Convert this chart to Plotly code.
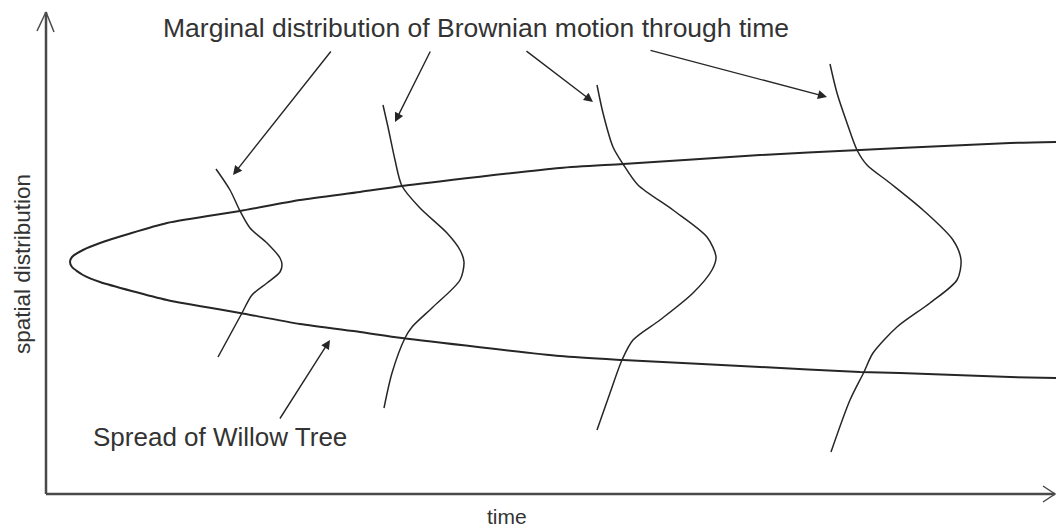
import plotly.graph_objects as go

# ---- diagram data (pixel-like units: time to the right, spatial value downward) ----
# Spread of the willow tree: upper and lower bounds over time
spread_t = [70, 72, 83, 100, 167, 240, 300, 360, 402, 560, 623, 760, 860, 900, 1010, 1056]
spread_upper = [262, 257, 250, 243, 223, 211, 200, 192, 186, 168, 164, 155, 150, 148, 143, 142]
spread_lower = [262, 267, 275, 282, 300, 313, 324, 332, 338, 356, 360, 367, 372, 373, 377, 378]

# Marginal distributions of Brownian motion at four times
m1_t = [216, 230, 240, 250, 267, 280, 282, 280, 267, 252, 242, 230, 218]
m1_y = [169, 190, 211, 228, 243, 258, 265, 272, 283, 295, 313, 335, 357]
m2_t = [383, 388, 395, 402, 420, 447, 460, 464, 460, 433, 412, 405, 392, 384]
m2_y = [105, 127, 160, 186, 208, 233, 250, 262, 280, 307, 327, 338, 373, 408]
m3_t = [597, 603, 613, 623, 638, 673, 707, 716, 712, 693, 660, 633, 622, 610, 597]
m3_y = [85, 113, 147, 164, 185, 210, 237, 257, 270, 293, 320, 340, 360, 393, 430]
m4_t = [830, 837, 847, 857, 867, 890, 923, 953, 961, 957, 930, 897, 873, 864, 850, 831]
m4_y = [64, 93, 123, 150, 165, 183, 210, 240, 260, 280, 303, 327, 353, 372, 400, 452]

# Annotation arrows (tail -> head)
title_tail_t = [332, 431, 525, 649]
title_tail_y = [50, 50, 50, 50]
title_head_t = [233, 395, 593, 827]
title_head_y = [175, 122, 102, 97]
spread_tail = (279, 420)
spread_head = (330, 340)

# Axes (origin, ends)
axis_origin = (46, 494)
axis_top = 12
axis_right = 1055

title_text = "Marginal distribution of Brownian motion through time"
spread_text = "Spread of Willow Tree"
xlabel = "time"
ylabel = "spatial distribution"

W, H = 1056, 531
INK = "#262626"
AX = "#4a4a4a"

fig = go.Figure()

# spread curve: from right end along upper bound to the vertex, back along lower bound
sx = list(reversed(spread_t)) + spread_t[1:]
sy = list(reversed(spread_upper)) + spread_lower[1:]
fig.add_trace(go.Scatter(x=sx, y=sy, mode="lines",
                         line=dict(color=INK, width=2, shape="spline", smoothing=0.6),
                         hoverinfo="skip"))

for mt, my in [(m1_t, m1_y), (m2_t, m2_y), (m3_t, m3_y), (m4_t, m4_y)]:
    fig.add_trace(go.Scatter(x=mt, y=my, mode="lines",
                             line=dict(color=INK, width=1.5, shape="spline", smoothing=0.8),
                             hoverinfo="skip"))

# axes with open arrow heads
ox, oy = axis_origin
fig.add_trace(go.Scatter(x=[ox, ox], y=[oy, axis_top], mode="lines",
                         line=dict(color=AX, width=2.5), hoverinfo="skip"))
fig.add_trace(go.Scatter(x=[ox, axis_right], y=[oy, oy], mode="lines",
                         line=dict(color=AX, width=2.5), hoverinfo="skip"))
fig.add_trace(go.Scatter(x=[ox - 9, ox, ox + 8], y=[axis_top + 19, axis_top, axis_top + 20],
                         mode="lines", line=dict(color=AX, width=1.5), hoverinfo="skip"))
fig.add_trace(go.Scatter(x=[axis_right - 12, axis_right, axis_right - 12], y=[oy - 8, oy, oy + 8],
                         mode="lines", line=dict(color=AX, width=1.5), hoverinfo="skip"))

annotations = []
for tx, ty, hx, hy in zip(title_tail_t, title_tail_y, title_head_t, title_head_y):
    annotations.append(dict(x=hx, y=hy, ax=tx, ay=ty, xref="x", yref="y", axref="x", ayref="y",
                            text="", showarrow=True, arrowhead=2, arrowsize=1.3,
                            arrowwidth=1.4, arrowcolor=INK))
annotations.append(dict(x=spread_head[0], y=spread_head[1], ax=spread_tail[0], ay=spread_tail[1],
                        xref="x", yref="y", axref="x", ayref="y", text="", showarrow=True,
                        arrowhead=2, arrowsize=1.3, arrowwidth=1.4, arrowcolor=INK))

font = "Liberation Sans, Arial, sans-serif"
annotations.append(dict(x=476, y=28, xref="x", yref="y", text=title_text, showarrow=False,
                        font=dict(family=font, size=26.5, color="#333333"),
                        xanchor="center", yanchor="middle"))
annotations.append(dict(x=220, y=437, xref="x", yref="y", text=spread_text, showarrow=False,
                        font=dict(family=font, size=26, color="#333333"),
                        xanchor="center", yanchor="middle"))
annotations.append(dict(x=507, y=516, xref="x", yref="y", text=xlabel, showarrow=False,
                        font=dict(family=font, size=21, color="#333333"),
                        xanchor="center", yanchor="middle"))
annotations.append(dict(x=22, y=264, xref="x", yref="y", text=ylabel, showarrow=False,
                        textangle=-90, font=dict(family=font, size=22.5, color="#333333"),
                        xanchor="center", yanchor="middle"))

fig.update_layout(
    width=W, height=H,
    margin=dict(l=0, r=0, t=0, b=0),
    paper_bgcolor="white", plot_bgcolor="white",
    showlegend=False,
    xaxis=dict(range=[0, W], visible=False, fixedrange=True),
    yaxis=dict(range=[H, 0], visible=False, fixedrange=True),
    annotations=annotations,
)

fig.write_html("out.html", config={"displayModeBar": False},
               post_script="document.body.style.margin='0px';document.body.style.overflow='hidden';")
